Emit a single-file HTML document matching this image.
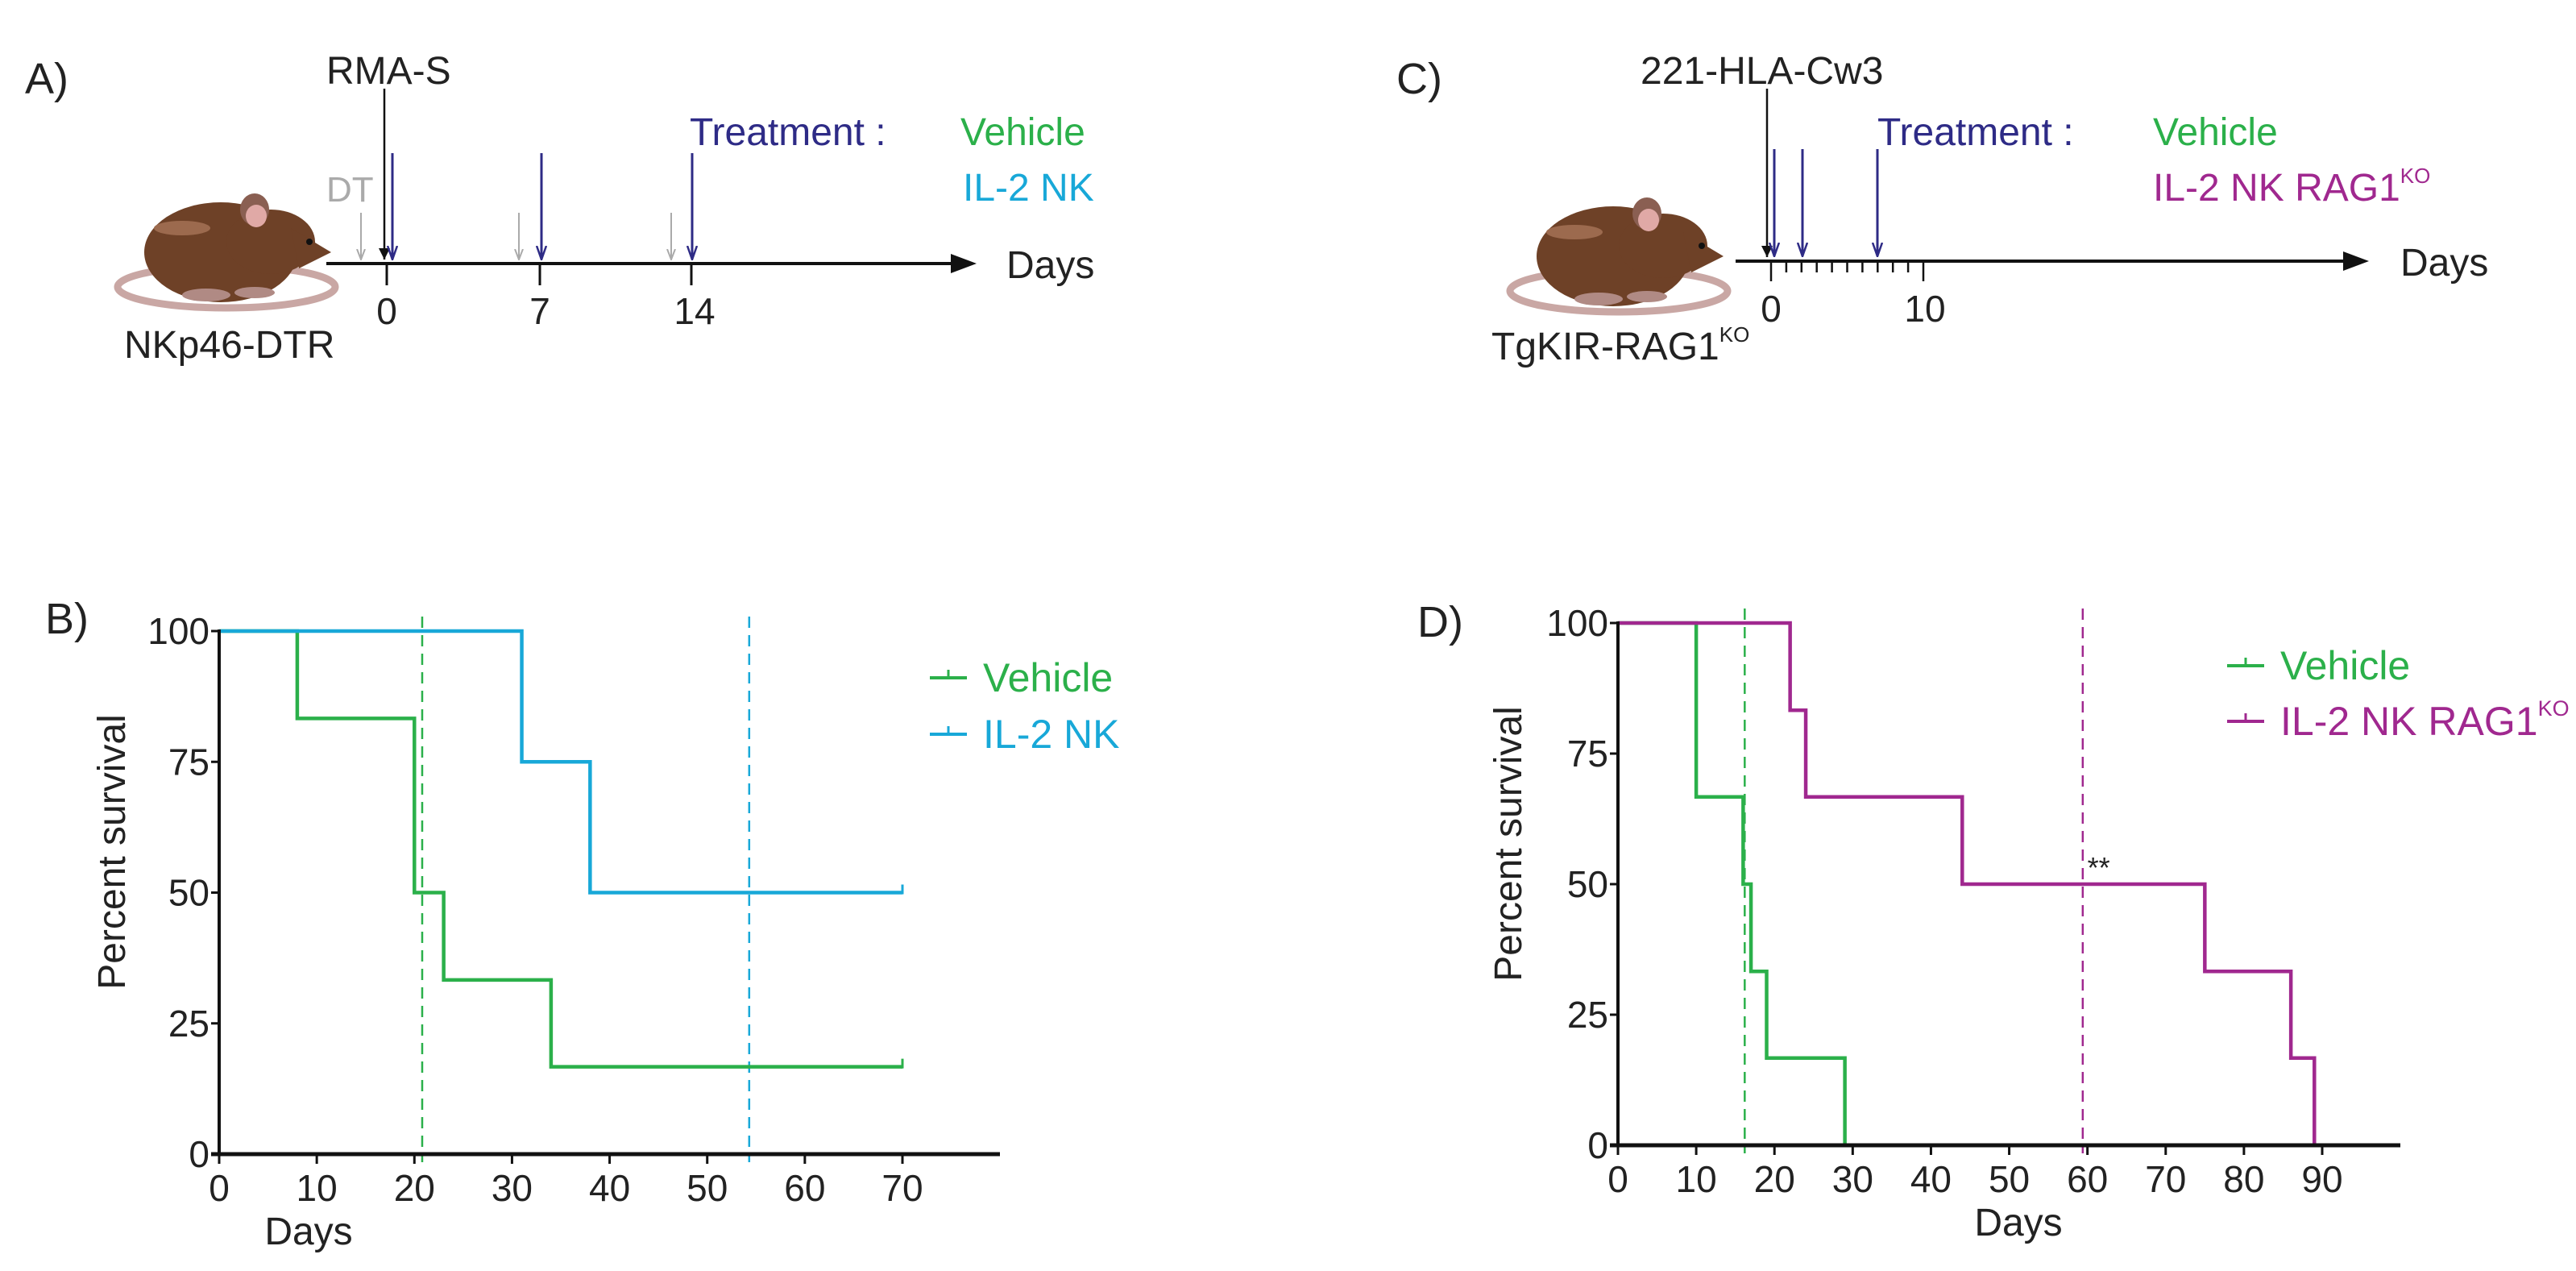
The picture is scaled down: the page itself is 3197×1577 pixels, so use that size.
<!DOCTYPE html>
<html><head><meta charset="utf-8">
<style>
html,body{margin:0;padding:0;background:#fff;}
svg{display:block;font-family:"Liberation Sans",sans-serif;}
</style></head>
<body>
<svg id="fig" width="3197" height="1577" viewBox="0 0 3197 1577" xmlns="http://www.w3.org/2000/svg">
<defs>
  <marker id="ahBlack" markerWidth="14" markerHeight="14" refX="7" refY="14" orient="0" markerUnits="userSpaceOnUse" viewBox="0 0 14 14"><path d="M0,0 L7,14 L14,0 Z" fill="#111"/></marker>
  <marker id="ahNavy" markerWidth="14" markerHeight="18" refX="7" refY="17" orient="0" markerUnits="userSpaceOnUse" viewBox="0 0 14 18"><path d="M1,0 L7,17 L13,0" fill="none" stroke="#2e2b86" stroke-width="2.5"/></marker>
  <marker id="ahGray" markerWidth="12" markerHeight="14" refX="6" refY="13" orient="0" markerUnits="userSpaceOnUse" viewBox="0 0 12 14"><path d="M1,0 L6,13 L11,0" fill="none" stroke="#aaa" stroke-width="2"/></marker>
  <g id="mouse">
    <ellipse cx="135" cy="118" rx="135" ry="26" fill="none" stroke="#c9a7a4" stroke-width="9"/>
    <ellipse cx="128" cy="75" rx="95" ry="62" fill="#6e4127"/>
    <ellipse cx="190" cy="62" rx="55" ry="40" fill="#6e4127"/>
    <path d="M215,45 L265,75 L225,95 Z" fill="#6e4127"/>
    <ellipse cx="170" cy="22" rx="18" ry="20" fill="#8a5f52"/>
    <ellipse cx="172" cy="30" rx="13" ry="14" fill="#e0a9a6"/>
    <circle cx="238" cy="62" r="4" fill="#111"/>
    <ellipse cx="80" cy="45" rx="35" ry="9" fill="#9c6a4e"/>
    <ellipse cx="110" cy="128" rx="30" ry="8" fill="#b08a84"/>
    <ellipse cx="170" cy="125" rx="25" ry="7" fill="#b08a84"/>
  </g>
</defs>

<!-- Panel A -->
<g>
  <text x="31" y="116" font-size="54" fill="#222">A)</text>
  <use href="#mouse" x="146" y="238"/>
  <text x="154" y="444" font-size="48" fill="#222">NKp46-DTR</text>
  <text x="405" y="104" font-size="48" fill="#222">RMA-S</text>
  <line x1="477" y1="110" x2="477" y2="322" stroke="#111" stroke-width="2.5" marker-end="url(#ahBlack)"/>
  <line x1="405" y1="327" x2="1185" y2="327" stroke="#111" stroke-width="4"/>
  <path d="M1180,315 L1212,327 L1180,339 Z" fill="#111"/>
  <text x="1249" y="345" font-size="48" fill="#222">Days</text>
  <g stroke="#111" stroke-width="3">
    <line x1="480" y1="327" x2="480" y2="354"/><line x1="670" y1="327" x2="670" y2="354"/><line x1="858" y1="327" x2="858" y2="354"/>
  </g>
  <g font-size="46" fill="#222" text-anchor="middle">
    <text x="480" y="402">0</text><text x="670" y="402">7</text><text x="862" y="402">14</text>
  </g>
  <text x="405" y="250" font-size="44" fill="#aaa">DT</text>
  <g stroke="#aaa" stroke-width="2">
    <line x1="448" y1="264" x2="448" y2="322" marker-end="url(#ahGray)"/>
    <line x1="644" y1="264" x2="644" y2="322" marker-end="url(#ahGray)"/>
    <line x1="833" y1="264" x2="833" y2="322" marker-end="url(#ahGray)"/>
  </g>
  <g stroke="#2e2b86" stroke-width="3">
    <line x1="487" y1="190" x2="487" y2="322" marker-end="url(#ahNavy)"/>
    <line x1="672" y1="190" x2="672" y2="322" marker-end="url(#ahNavy)"/>
    <line x1="859" y1="190" x2="859" y2="322" marker-end="url(#ahNavy)"/>
  </g>
  <text x="856" y="180" font-size="48" fill="#2e2b86">Treatment :</text>
  <text x="1192" y="180" font-size="48" fill="#2bb04a">Vehicle</text>
  <text x="1195" y="249" font-size="48" fill="#18a8d8">IL-2 NK</text>
</g>

<!-- Panel C -->
<g>
  <text x="1733" y="116" font-size="54" fill="#222">C)</text>
  <use href="#mouse" x="1874" y="243"/>
  <text x="1851" y="446" font-size="48" fill="#222">TgKIR-RAG1<tspan font-size="26" dy="-22">KO</tspan></text>
  <text x="2036" y="104" font-size="48" fill="#222">221-HLA-Cw3</text>
  <line x1="2193" y1="110" x2="2193" y2="319" stroke="#111" stroke-width="2.5" marker-end="url(#ahBlack)"/>
  <line x1="2154" y1="324" x2="2912" y2="324" stroke="#111" stroke-width="4"/>
  <path d="M2908,312 L2940,324 L2908,336 Z" fill="#111"/>
  <text x="2979" y="342" font-size="48" fill="#222">Days</text>
  <g id="ctick" stroke="#111" stroke-width="2.5"></g>
  <g font-size="46" fill="#222" text-anchor="middle">
    <text x="2198" y="399">0</text><text x="2389" y="399">10</text>
  </g>
  <g stroke="#2e2b86" stroke-width="3">
    <line x1="2202" y1="185" x2="2202" y2="318" marker-end="url(#ahNavy)"/>
    <line x1="2237" y1="185" x2="2237" y2="318" marker-end="url(#ahNavy)"/>
    <line x1="2330" y1="185" x2="2330" y2="318" marker-end="url(#ahNavy)"/>
  </g>
  <text x="2330" y="180" font-size="48" fill="#2e2b86">Treatment :</text>
  <text x="2672" y="180" font-size="48" fill="#2bb04a">Vehicle</text>
  <text x="2672" y="249" font-size="48" fill="#a0288f">IL-2 NK RAG1<tspan font-size="26" dy="-22">KO</tspan></text>
</g>

<text x="56" y="786" font-size="54" fill="#222">B)</text>
<text x="1759" y="790" font-size="54" fill="#222">D)</text>
<g id="chartB"></g>
<g id="chartD"></g>
</svg>

<script>
// ---- Panel B data ----
const bXTicks = [0,10,20,30,40,50,60,70];
const bYTicks = [0,25,50,75,100];
const bVehicleDays = [0,8,20,23,34,70];
const bVehicleSurv = [100,83.3,50,33.3,16.7,16.7];
const bIL2Days = [0,31,38,70];
const bIL2Surv = [100,75,50,50];
const bMedians = [20.8,54.3];
// ---- Panel D data ----
const dXTicks = [0,10,20,30,40,50,60,70,80,90];
const dYTicks = [0,25,50,75,100];
const dVehicleDays = [0,10,16,17,19,29];
const dVehicleSurv = [100,66.7,50,33.3,16.7,0];
const dRagDays = [0,22,24,44,75,86,89];
const dRagSurv = [100,83.3,66.7,50,33.3,16.7,0];
const dMedians = [16.2,59.4];
// ---- Panel C minor ticks (days) ----
const cTickDays = [0,1,2,3,4,5,6,7,8,9,10];

const NS = "http://www.w3.org/2000/svg";
function mk(parent, tag, attrs){
  const e = document.createElementNS(NS, tag);
  for (const k in attrs) e.setAttribute(k, attrs[k]);
  parent.appendChild(e); return e;
}

// Panel C ticks
(function(){
  const g = document.getElementById('ctick');
  const cx = d => 2198 + d * 18.9;
  cTickDays.forEach(d => {
    const major = (d === 0 || d === 10);
    const t = mk(g, 'line', {x1: cx(d), y1: 324, x2: cx(d), y2: major ? 349 : 338});
    
    
  });
})();

function chart(cfg){
  const g = document.getElementById(cfg.id);
  const X = d => cfg.x0 + (d - 0) * (cfg.x1 - cfg.x0) / cfg.xMax;
  const Y = v => cfg.y0 - v * (cfg.y0 - cfg.y100) / 100;
  cfg.medians.forEach((m, i) => {
    const l = mk(g, 'line', {x1: X(m), x2: X(m), y1: cfg.y100 - 18, y2: cfg.y0 + 10, stroke: cfg.medColors[i], 'stroke-width': 2.5, 'stroke-dasharray': '14,9'});
    
    
  });
  cfg.series.forEach(s => {
    let d = '';
    for (let i = 0; i < s.days.length; i++) {
      const x = X(s.days[i]), y = Y(s.surv[i]);
      if (i === 0) d += 'M' + x + ',' + y;
      else d += ' H' + x + ' V' + y;
    }
    const p = mk(g, 'path', {d: d, fill: 'none', stroke: s.color, 'stroke-width': 4.5});
    
    
    if (s.censor) {
      const last = s.days.length - 1;
      const c = mk(g, 'line', {x1: X(s.days[last]), x2: X(s.days[last]), y1: Y(s.surv[last]) - 10, y2: Y(s.surv[last]) + 2, stroke: s.color, 'stroke-width': 3});
      
      
    }
  });
  const ya = mk(g, 'line', {x1: cfg.x0, x2: cfg.x0, y1: cfg.y100 - 2, y2: cfg.y0, stroke: '#111', 'stroke-width': 4});
  
  
  const xa = mk(g, 'line', {x1: cfg.x0 - 10, x2: cfg.xEnd, y1: cfg.y0, y2: cfg.y0, stroke: '#111', 'stroke-width': 5});
  
  
  cfg.yTicks.forEach(v => {
    mk(g, 'line', {x1: cfg.x0 - 10, x2: cfg.x0, y1: Y(v), y2: Y(v), stroke: '#111', 'stroke-width': 3});
    const t = mk(g, 'text', {x: cfg.x0 - 12, y: Y(v) + 16, 'font-size': 46, 'text-anchor': 'end', fill: '#222'});
    t.textContent = v;
    
    
  });
  cfg.xTicks.forEach(v => {
    mk(g, 'line', {x1: X(v), x2: X(v), y1: cfg.y0, y2: cfg.y0 + 12, stroke: '#111', 'stroke-width': 3});
    const t = mk(g, 'text', {x: X(v), y: cfg.y0 + 58, 'font-size': 46, 'text-anchor': 'middle', fill: '#222'});
    t.textContent = v;
    
    
  });
  const xt = mk(g, 'text', {x: cfg.xTitleX, y: cfg.y0 + 112, 'font-size': 48, 'text-anchor': 'middle', fill: '#222'});
  xt.textContent = 'Days';
  
  
  const yt = mk(g, 'text', {x: 0, y: 0, 'font-size': 48, 'text-anchor': 'middle', fill: '#222', transform: 'translate(' + cfg.yTitleX + ',' + cfg.yTitleY + ') rotate(-90)'});
  yt.textContent = 'Percent survival';
  
  
  cfg.legend.forEach((L, i) => {
    const ly = cfg.legY + i * cfg.legGap;
    mk(g, 'line', {x1: cfg.legX, x2: cfg.legX + 46, y1: ly, y2: ly, stroke: L.color, 'stroke-width': 4});
    mk(g, 'line', {x1: cfg.legX + 23, x2: cfg.legX + 23, y1: ly - 10, y2: ly, stroke: L.color, 'stroke-width': 3});
    const t = mk(g, 'text', {x: cfg.legX + 66, y: ly + 17, 'font-size': 50, fill: L.color});
    t.textContent = L.label;
    if (L.sup) {
      const s = mk(t, 'tspan', {'font-size': 27, dy: -24});
      s.textContent = L.sup;
    }
    
    
  });
  if (cfg.star) {
    const s = mk(g, 'text', {x: X(cfg.star[0]), y: Y(cfg.star[1]) - 8, 'font-size': 36, fill: '#222'});
    s.textContent = '**';
    
    
  }
}

chart({
  id: 'chartB', x0: 272, x1: 1120, xMax: 70, xEnd: 1241, y0: 1432, y100: 783,
  xTicks: bXTicks, yTicks: bYTicks, medians: bMedians, medColors: ['#2bb04a', '#18a8d8'],
  series: [
    {name: 'vehicle-curve-b', days: bVehicleDays, surv: bVehicleSurv, color: '#2bb04a', censor: true},
    {name: 'il2nk-curve-b', days: bIL2Days, surv: bIL2Surv, color: '#18a8d8', censor: true}
  ],
  xTitleX: 383, yTitleX: 155, yTitleY: 1057,
  legX: 1154, legY: 841, legGap: 70,
  legend: [{label: 'Vehicle', color: '#2bb04a'}, {label: 'IL-2 NK', color: '#18a8d8'}]
});
chart({
  id: 'chartD', x0: 2008, x1: 2882, xMax: 90, xEnd: 2979, y0: 1421, y100: 773,
  xTicks: dXTicks, yTicks: dYTicks, medians: dMedians, medColors: ['#2bb04a', '#a0288f'],
  series: [
    {name: 'vehicle-curve-d', days: dVehicleDays, surv: dVehicleSurv, color: '#2bb04a'},
    {name: 'il2nk-rag-curve-d', days: dRagDays, surv: dRagSurv, color: '#a0288f'}
  ],
  xTitleX: 2505, yTitleX: 1888, yTitleY: 1047,
  legX: 2764, legY: 826, legGap: 69,
  legend: [{label: 'Vehicle', color: '#2bb04a'}, {label: 'IL-2 NK RAG1', sup: 'KO', color: '#a0288f'}],
  star: [60, 50]
});
</script>
</body></html>
